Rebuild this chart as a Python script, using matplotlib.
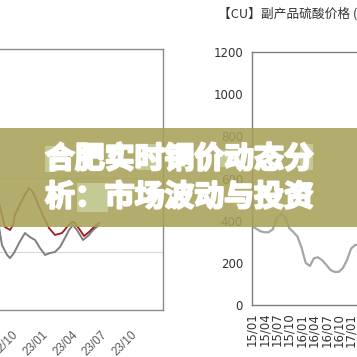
import matplotlib
matplotlib.use("Agg")
import matplotlib.pyplot as plt
import matplotlib.patheffects as pe
from matplotlib.patches import Rectangle

W, H = 357, 357

# left chart: months counted from 2022/10, price in yuan/ton
left_months_red = [-2.0, -1.51, -0.71, -0.20, 0.10, 0.30, 1.01, 1.71, 2.12, 2.52, 3.23,
                   3.73, 4.33, 5.04, 5.54, 6.05, 6.35, 6.85, 7.26, 7.76, 8.27, 8.77]
left_red = [64500, 63850, 61690, 61490, 61820, 62500, 63510, 64320, 64050, 63380, 62300,
            61620, 61150, 61280, 61690, 62030, 61960, 61490, 61080, 61350, 61690, 61960]
left_months_gray = [-2.0, -1.51, -1.01, -0.50, -0.20, 0.20, 0.71, 1.31, 1.81, 2.32, 2.82,
                    3.33, 3.83, 4.33, 4.84, 5.34, 5.75, 6.15, 6.55, 7.16, 7.76, 8.17, 8.67]
left_gray = [63200, 62500, 60470, 59800, 59590, 59930, 60610, 61280, 61010, 60810, 60270,
             59800, 59930, 60000, 60340, 60950, 61490, 61820, 61490, 60810, 61150, 61490, 61760]
left_ticks = [0, 3, 6, 9, 12]
left_labels = ["22/10", "23/01", "23/04", "23/07", "23/10"]

# right chart: monthly sulfuric acid price from 2015/01
right_values = [375, 362, 350, 345, 345, 358, 410, 432, 418, 365, 346, 325, 272, 200,
                185, 222, 226, 212, 190, 166, 157, 157, 175, 213, 268, 285, 285]
right_ticks = list(range(0, 36, 3))
right_labels = ["15/01", "15/04", "15/07", "15/10", "16/01", "16/04", "16/07", "16/10",
                "17/01", "17/04", "17/07", "17/10"]

title = "【CU】副产品硫酸价格 (元/吨)"
headline = ["合肥实时铜价动态分", "析：市场波动与投资"]


def box(l, t, r, b):
    return [l / W, 1 - b / H, (r - l) / W, (b - t) / H]


fig = plt.figure(figsize=(W / 100, H / 100), dpi=100)
fig.patch.set_facecolor("white")

# ---- left chart
ax1 = fig.add_axes(box(-100, 49, 163, 310))
ax1.plot(left_months_gray, left_gray, color="#7f7f7f", lw=1.4)
ax1.plot(left_months_red, left_red, color="#9b1c1c", lw=1.3)
ax1.set_xlim((-100 - 12) / 9.92, (163 - 12) / 9.92)
ax1.set_ylim(60000 - 58 * 67.57, 60000 + 203 * 67.57)
ax1.set_yticks([60000, 65000])
ax1.yaxis.grid(True, color="#d9d9d9", lw=0.8)
ax1.set_axisbelow(True)
ax1.tick_params(left=False, labelleft=False, bottom=False, pad=10)
ax1.set_xticks(left_ticks)
ax1.set_xticklabels(left_labels, rotation=45, ha="right", rotation_mode="anchor",
                    fontsize=8.5, color="#595959", family="Liberation Sans")
for s in ax1.spines.values():
    s.set_color("#8c8c8c")
    s.set_linewidth(1.0)

# ---- right chart
ax2 = fig.add_axes(box(252, 52, 400, 305))
ax2.plot(range(len(right_values)), right_values, color="#a6a6a6", lw=1.6)
ax2.set_xlim(0, 148 / 4.13)
ax2.set_ylim(0, 1200)
ax2.set_yticks(range(0, 1201, 200))
ax2.tick_params(axis="y", length=0, pad=6.5, labelsize=8.5, labelcolor="#333333")
ax2.set_xticks(right_ticks)
ax2.set_xticklabels(right_labels, rotation=90, fontsize=8.5, color="#333333")
ax2.tick_params(axis="x", length=0, pad=5.5)
for s in ax2.spines.values():
    s.set_color("#7f7f7f")
    s.set_linewidth(1.0)

fig.text(218 / W, 1 - 14 / H, title, fontsize=9.2, color="#333333",
         family=["Noto Sans CJK SC", "DejaVu Sans"], va="center", ha="left")

# ---- overlay band with headline
fig.add_artist(Rectangle((0, 1 - 227 / H), 1, 99 / H, transform=fig.transFigure,
                         facecolor="#a8a157", alpha=0.87, edgecolor="none", zorder=5))
# pale ghost boxes behind some characters
for l, t, r, b in [(45, 146, 57, 172), (137, 144, 156, 170), (217, 150, 240, 167),
                   (300, 144, 313, 170), (77, 183, 108, 212)]:
    fig.add_artist(Rectangle((l / W, 1 - b / H), (r - l) / W, (b - t) / H,
                             transform=fig.transFigure, facecolor="#d4e2b6",
                             alpha=0.55, edgecolor="none", zorder=6))
for i, line in enumerate(headline):
    fig.text(45 / W, 1 - (159 + 38 * i) / H, line, fontsize=21.5, color="white",
             weight="bold", family=["Noto Sans CJK SC", "DejaVu Sans"],
             va="center", ha="left", zorder=7,
             path_effects=[pe.withStroke(linewidth=1.6, foreground="white")])

fig.savefig("out.png", dpi=100)
